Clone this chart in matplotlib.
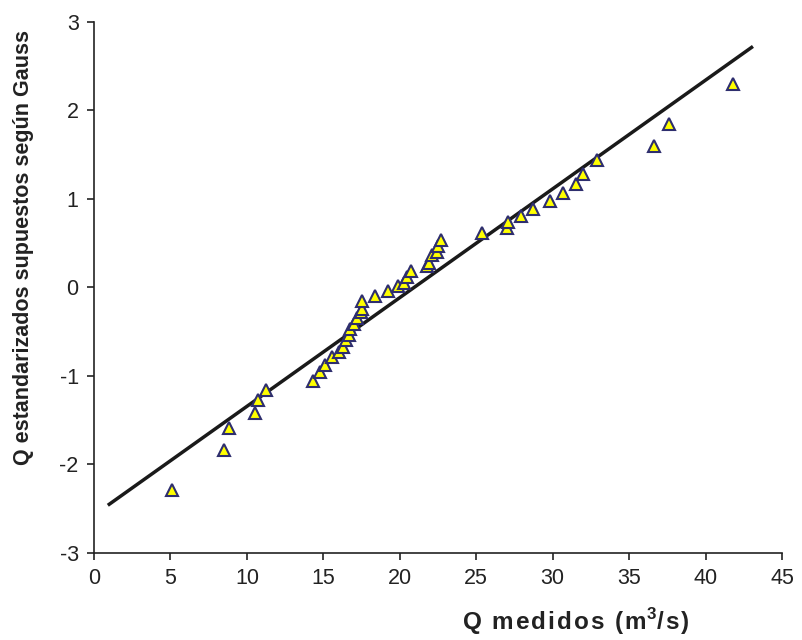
import matplotlib
matplotlib.use("Agg")
import matplotlib.pyplot as plt

# measured flows (m3/s) and standardized Gauss values
q_medidos = [5.1, 8.5, 8.8, 10.5, 10.75, 11.25, 14.35, 14.75, 15.1, 15.55,
             16.0, 16.3, 16.5, 16.65, 16.75, 17.0, 17.2, 17.45, 17.5, 17.55,
             18.4, 19.2, 19.85, 20.25, 20.45, 20.7, 21.75, 21.9, 22.1, 22.4,
             22.5, 22.7, 25.4, 27.0, 27.1, 27.9, 28.7, 29.8, 30.7, 31.55,
             31.95, 32.9, 36.6, 37.6, 41.8]
q_gauss = [-2.29, -1.84, -1.59, -1.42, -1.27, -1.16, -1.06, -0.96, -0.88, -0.79,
           -0.73, -0.67, -0.59, -0.54, -0.47, -0.41, -0.35, -0.28, -0.24, -0.15,
           -0.10, -0.04, 0.01, 0.05, 0.12, 0.18, 0.24, 0.28, 0.36, 0.40,
           0.47, 0.54, 0.61, 0.67, 0.74, 0.81, 0.89, 0.97, 1.07, 1.17,
           1.28, 1.44, 1.60, 1.85, 2.30]

# fitted line endpoints
line_x = [1, 43]
line_y = [-2.45, 2.71]

plt.rcParams['font.family'] = ['Liberation Sans', 'DejaVu Sans']
plt.rcParams['axes.unicode_minus'] = False
plt.rcParams['mathtext.fontset'] = 'custom'
plt.rcParams['mathtext.rm'] = 'Liberation Sans'
plt.rcParams['mathtext.bf'] = 'Liberation Sans:bold'


def spaced(s):
    # slight letter spacing like the original Excel label
    return '\u200a'.join(s)


fig = plt.figure(figsize=(8.03, 6.4), dpi=100)
ax = fig.add_axes([0.117, 0.136, 0.857, 0.830])

ax.plot(line_x, line_y, color='#1a1a1a', lw=2.5, zorder=2)
ax.plot(q_medidos, q_gauss, linestyle='none', marker='^', markersize=8,
        markerfacecolor='#ffff00', markeredgecolor='#2e2e6e',
        markeredgewidth=1.5, zorder=3)

ax.set_xlim(0, 45)
ax.set_ylim(-3, 3)
ax.set_xticks(range(0, 46, 5))
ax.set_yticks(range(-3, 4))

ax.spines['top'].set_visible(False)
ax.spines['right'].set_visible(False)
for s in ['left', 'bottom']:
    ax.spines[s].set_linewidth(1.2)
    ax.spines[s].set_color('#222222')

ax.tick_params(direction='out', length=5, width=1.2, labelsize=15.5,
               colors='#222222', pad=6)

xlab = spaced('Q medidos (m') + '$^\\mathbf{3}$' + spaced('/s)')
ax.set_xlabel(xlab, fontsize=17.5, fontweight='bold', color='#222222')
ax.xaxis.set_label_coords(0.70, -0.1)
ax.set_ylabel('Q estandarizados supuestos según Gauss', fontsize=15.5,
              fontweight='bold', color='#222222')
ax.yaxis.set_label_coords(-0.087, 0.575)

plt.savefig('out.png', dpi=100)
plt.close()
